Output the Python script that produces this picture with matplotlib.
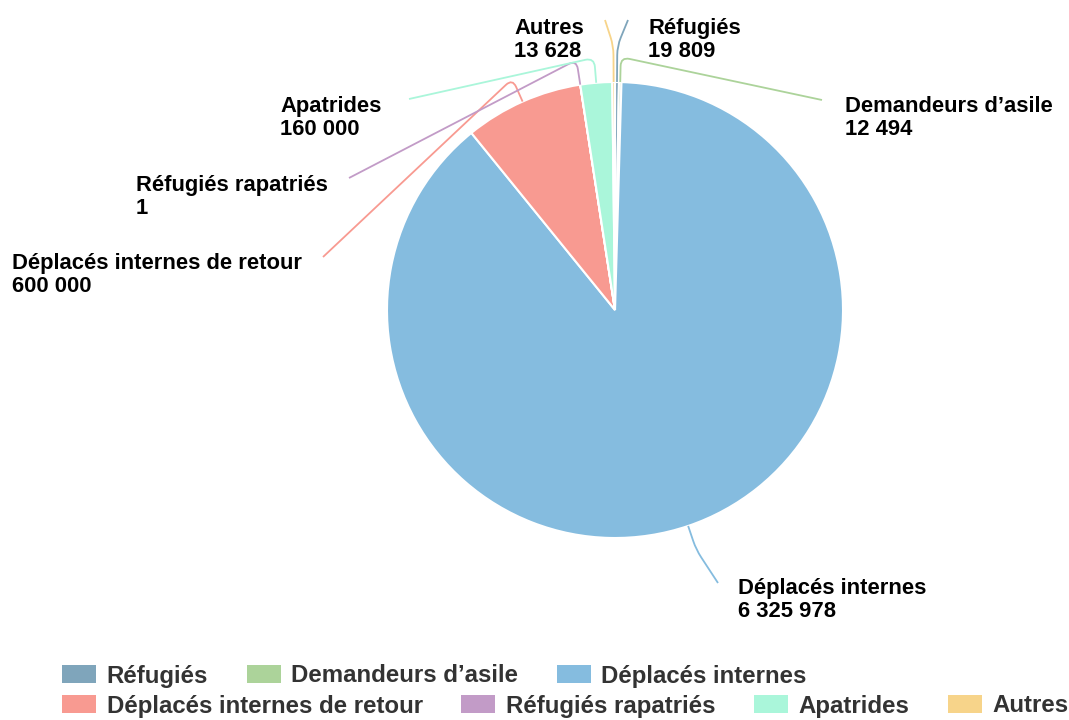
import numpy as np
import matplotlib.pyplot as plt
from matplotlib.patches import Patch, PathPatch
from matplotlib.path import Path

plt.rcParams['font.family'] = ['Liberation Sans', 'DejaVu Sans']
plt.rcParams['font.weight'] = 'bold'

categories = ['Réfugiés', 'Demandeurs d\u2019asile', 'Déplacés internes',
              'Déplacés internes de retour', 'Réfugiés rapatriés', 'Apatrides', 'Autres']
values = [19809, 12494, 6325978, 600000, 1, 160000, 13628]
colors = ['#7fa5bb', '#acd39a', '#85bcdf', '#f89a91', '#c29bc7', '#aaf6da', '#f7d48a']

# label placement (image pixel coords): text left x, text middle y, leader end point
label_pos = [(648, 40), (845, 118), (738, 600), (12, 275), (136, 197), (280, 118), (514, 40)]
leader_end = [(628, 20), (822, 100), (718, 583), (323, 257), (349, 178), (409, 99), (605, 20)]
elbow = [36, 25, 25, 25, 25, 25, 36]

W, H = 1069, 720
fig = plt.figure(figsize=(W / 100, H / 100), dpi=100)
ax = fig.add_axes([0, 0, 1, 1])

cx, cy, R = 615, 310, 228
wedges, _ = ax.pie(values, colors=colors, center=(cx, cy), radius=R,
                   startangle=-90, counterclock=True,
                   wedgeprops=dict(edgecolor='white', linewidth=1.5))
ax.set_xlim(0, W)
ax.set_ylim(H, 0)
ax.set_aspect('auto')
ax.axis('off')


def leader(p0, p1, p2, rr=9):
    # two straight pieces with a rounded corner at p1
    p0, p1, p2 = map(np.asarray, (p0, p1, p2))
    d1 = (p0 - p1) / np.linalg.norm(p0 - p1)
    d2 = (p2 - p1) / np.linalg.norm(p2 - p1)
    a = p1 + d1 * min(rr, np.linalg.norm(p0 - p1) / 2)
    b = p1 + d2 * min(rr, np.linalg.norm(p2 - p1) / 2)
    verts = [p0, a, p1, b, p2]
    codes = [Path.MOVETO, Path.LINETO, Path.CURVE3, Path.CURVE3, Path.LINETO]
    return Path(verts, codes)


for w, col, name, v, (tx, ty), end, el in zip(wedges, colors, categories, values,
                                                 label_pos, leader_end, elbow):
    th = np.deg2rad((w.theta1 + w.theta2) / 2)
    p0 = (cx + R * np.cos(th), cy + R * np.sin(th))
    p1 = (cx + (R + el) * np.cos(th), cy + (R + el) * np.sin(th))
    ax.add_patch(PathPatch(leader(p0, p1, end), facecolor='none', edgecolor=col, lw=1.3))
    ax.text(tx, ty, name + '\n' + f"{v:,}".replace(',', ' '), ha='left', va='center',
            fontsize=15.8, fontweight='bold', color='black', linespacing=1.15)

handles = [Patch(facecolor=c, edgecolor='none') for c in colors]
kw = dict(frameon=False, loc='center left', borderpad=0, borderaxespad=0,
          handlelength=1.42, handleheight=0.78, handletextpad=0.44, columnspacing=1.6,
          prop=dict(size=17.3, weight='bold'), labelcolor='#333333')
leg1 = fig.legend(handles[:3], categories[:3], ncol=3,
                  bbox_to_anchor=(62 / W, 1 - 676 / H), **kw)
leg2 = fig.legend(handles[3:], categories[3:], ncol=4,
                  bbox_to_anchor=(62 / W, 1 - 706 / H), **kw)

fig.savefig('out.png', dpi=100)
